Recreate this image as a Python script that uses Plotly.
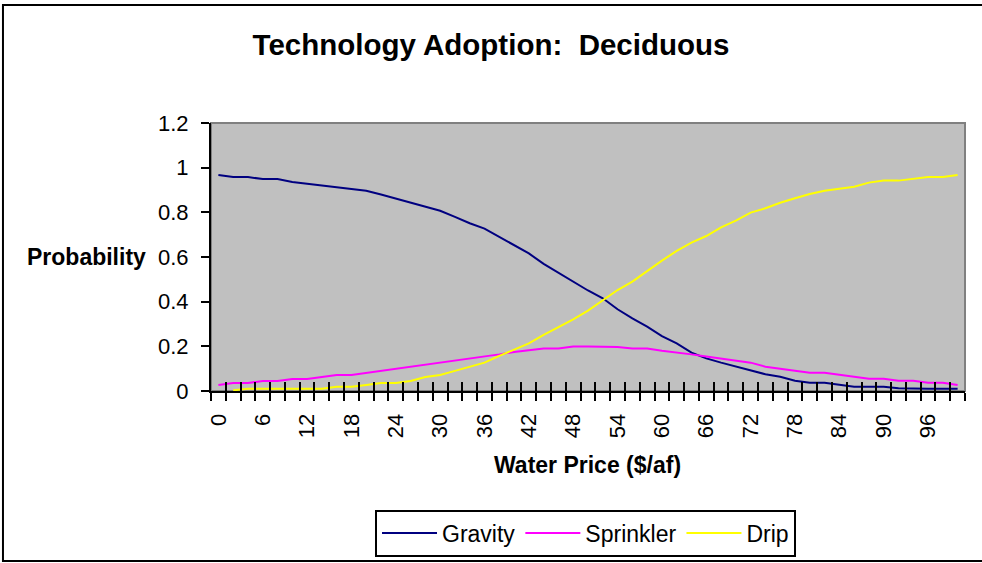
import plotly.graph_objects as go

# water price categories ($/af), one every 2
price = list(range(0, 101, 2))
label_vals = list(range(0, 97, 6))

gravity = [0.967, 0.958, 0.958, 0.949, 0.949, 0.936, 0.928, 0.921, 0.913, 0.906,
           0.897, 0.880, 0.861, 0.843, 0.825, 0.807, 0.780, 0.751, 0.727, 0.691,
           0.654, 0.616, 0.569, 0.530, 0.490, 0.450, 0.415, 0.366, 0.325, 0.288,
           0.246, 0.213, 0.172, 0.146, 0.127, 0.109, 0.094, 0.075, 0.064, 0.046,
           0.037, 0.037, 0.028, 0.019, 0.019, 0.019, 0.012, 0.010, 0.010, 0.010, 0.010]
sprinkler = [0.027, 0.036, 0.036, 0.045, 0.045, 0.054, 0.054, 0.064, 0.072, 0.072,
             0.081, 0.090, 0.100, 0.109, 0.118, 0.127, 0.137, 0.146, 0.154, 0.164,
             0.175, 0.184, 0.190, 0.190, 0.199, 0.199, 0.199, 0.197, 0.190, 0.190,
             0.180, 0.173, 0.164, 0.154, 0.146, 0.136, 0.127, 0.109, 0.100, 0.091,
             0.082, 0.082, 0.072, 0.063, 0.055, 0.055, 0.046, 0.046, 0.037, 0.037, 0.027]
drip = [None, 0.003, 0.010, 0.010, 0.010, 0.010, 0.010, 0.010, 0.019, 0.019,
        0.027, 0.036, 0.036, 0.045, 0.063, 0.072, 0.090, 0.109, 0.127, 0.157,
        0.184, 0.213, 0.251, 0.285, 0.321, 0.360, 0.407, 0.452, 0.490, 0.539,
        0.584, 0.627, 0.664, 0.694, 0.733, 0.763, 0.799, 0.818, 0.843, 0.863,
        0.882, 0.897, 0.906, 0.915, 0.933, 0.942, 0.942, 0.951, 0.958, 0.958, 0.967]

FONT = "Liberation Sans, Arial, sans-serif"

fig = go.Figure()
for name, vals, col in [("Gravity", gravity, "#000080"),
                        ("Sprinkler", sprinkler, "#FF00FF"),
                        ("Drip", drip, "#FFFF00")]:
    fig.add_trace(go.Scatter(x=price, y=vals, name=name, mode="lines",
                             line=dict(color=col, width=2)))
# empty trace so the overlay axis (inside ticks) gets drawn
fig.add_trace(go.Scatter(x=[None], y=[None], xaxis="x2", showlegend=False, hoverinfo="skip"))

xr = [-1, 101]
bounds = list(range(-1, 102, 2))

fig.update_layout(
    width=982, height=563,
    margin=dict(l=211, r=17, t=123, b=172, autoexpand=False),
    paper_bgcolor="white", plot_bgcolor="#C0C0C0",
    font=dict(family=FONT, size=22, color="black"),
    title=dict(text="<b>Technology Adoption:  Deciduous</b>", x=0.5, xanchor="center",
               y=1 - 45 / 563, yanchor="middle", font=dict(size=29.5)),
    showlegend=True,
    legend=dict(orientation="h", x=0.4967, xanchor="center", y=-0.53, yanchor="middle",
                bordercolor="black", borderwidth=2, bgcolor="white",
                font=dict(size=23), itemwidth=55),
    # labels axis, with outside minor ticks at category boundaries
    xaxis=dict(range=xr, tickmode="array", tickvals=label_vals, ticktext=[str(v) for v in label_vals],
               tickangle=-90, ticks="", showgrid=False, zeroline=False,
               showline=True, linecolor="black", linewidth=2, ticklabelstandoff=12,
               minor=dict(tickmode="array", tickvals=bounds, ticks="outside", ticklen=8,
                          tickwidth=2, tickcolor="black", showgrid=False)),
    xaxis2=dict(overlaying="x", range=xr, tickmode="array", tickvals=bounds, showticklabels=False,
                ticks="inside", ticklen=9, tickwidth=2, tickcolor="black", showgrid=False,
                zeroline=False, side="bottom", anchor="y"),
    yaxis=dict(range=[0, 1.2], dtick=0.2, ticks="outside", ticklen=8, tickwidth=2, tickcolor="black",
               showgrid=False, zeroline=False, showline=True, linecolor="black", linewidth=2,
               ticklabelstandoff=8),
)

# grey plot border, outer chart border
fig.add_shape(type="rect", xref="paper", yref="paper", x0=0, x1=1, y0=0, y1=1,
              line=dict(color="#808080", width=2), layer="below")
fig.add_shape(type="rect", xref="paper", yref="paper", x0=-0.2759, x1=1.03, y0=-0.6343, y1=1.4403,
              line=dict(color="black", width=2))

fig.add_annotation(text="<b>Probability</b>", xref="paper", yref="paper", x=-0.0836, y=0.5,
                   xanchor="right", yanchor="middle", showarrow=False, font=dict(size=23))
fig.add_annotation(text="<b>Water Price ($/af)</b>", xref="paper", yref="paper", x=0.4987, y=-0.276,
                   xanchor="center", yanchor="middle", showarrow=False, font=dict(size=23))

# page body has an 8px default margin, drop it so the chart sits at 0,0
fig.write_html("out.html", config={"displayModeBar": False},
               post_script="document.body.style.margin='0';")
